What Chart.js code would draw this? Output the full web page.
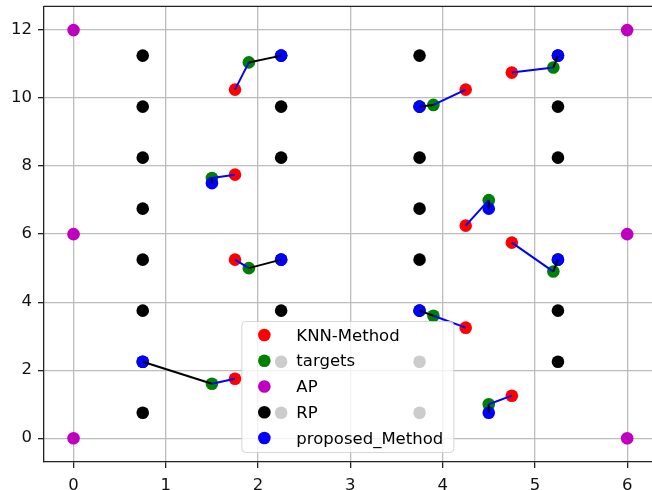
<!DOCTYPE html>
<html>
<head>
<meta charset="utf-8">
<script src="https://cdn.jsdelivr.net/npm/chart.js@4.4.1/dist/chart.umd.min.js"></script>
<style>
  html, body { margin: 0; padding: 0; background: #fff; overflow: hidden; }
  #wrap { width: 663px; height: 490px; }
</style>
</head>
<body>
<div id="wrap"><canvas id="chart" width="663" height="490"></canvas></div>
<script>
const xTicks = [0, 1, 2, 3, 4, 5, 6];
const yTicks = [0, 2, 4, 6, 8, 10, 12];

// one entry per test location
const knnX = [1.75, 1.75, 1.75, 1.75, 4.25, 4.75, 4.25, 4.75, 4.25, 4.75];
const knnY = [10.25, 7.75, 5.25, 1.75, 10.25, 10.75, 6.25, 5.75, 3.25, 1.25];
const targetX = [1.9, 1.5, 1.9, 1.5, 3.9, 5.2, 4.5, 5.2, 3.9, 4.5];
const targetY = [11.05, 7.65, 5.0, 1.6, 9.8, 10.9, 7.0, 4.9, 3.6, 1.0];
const proposedX = [2.25, 1.5, 2.25, 0.75, 3.75, 5.25, 4.5, 5.25, 3.75, 4.5];
const proposedY = [11.25, 7.5, 5.25, 2.25, 9.75, 11.25, 6.75, 5.25, 3.75, 0.75];

const apX = [0, 0, 0, 6, 6, 6];
const apY = [0, 6, 12, 0, 6, 12];

const rpX = [0.75, 0.75, 0.75, 0.75, 0.75, 0.75, 0.75, 0.75,
             2.25, 2.25, 2.25, 2.25, 2.25, 2.25, 2.25,
             3.75, 3.75, 3.75, 3.75, 3.75, 3.75, 3.75, 3.75,
             5.25, 5.25, 5.25, 5.25, 5.25, 5.25];
const rpY = [0.75, 2.25, 3.75, 5.25, 6.75, 8.25, 9.75, 11.25,
             0.75, 2.25, 3.75, 5.25, 8.25, 9.75, 11.25,
             0.75, 2.25, 3.75, 5.25, 6.75, 8.25, 9.75, 11.25,
             2.25, 3.75, 5.25, 8.25, 9.75, 11.25];

const RED = '#ff0000';
const GREEN = '#008000';
const MAGENTA = '#bf00bf';
const BLACK = '#000000';
const BLUE = '#0000ff';
const FONT = "'DejaVu Sans', sans-serif";

const toPoints = (xs, ys) => xs.map((x, i) => ({ x: x, y: ys[i] }));

const scatterSet = (label, xs, ys, color, order) => ({
  label: label,
  data: toPoints(xs, ys),
  backgroundColor: color,
  borderWidth: 0,
  pointRadius: 6.3,
  pointHoverRadius: 6.3,
  order: order
});

// blue: knn -> target, black: target -> proposed
const errorLines = [];
knnX.forEach((_, i) => {
  errorLines.push({
    data: [{ x: knnX[i], y: knnY[i] }, { x: targetX[i], y: targetY[i] }],
    showLine: true, borderColor: BLUE, borderWidth: 2, pointRadius: 0, order: 0
  });
  errorLines.push({
    data: [{ x: targetX[i], y: targetY[i] }, { x: proposedX[i], y: proposedY[i] }],
    showLine: true, borderColor: BLACK, borderWidth: 2, pointRadius: 0, order: 0
  });
});

const legendItems = [
  { label: 'KNN-Method', color: RED },
  { label: 'targets', color: GREEN },
  { label: 'AP', color: MAGENTA },
  { label: 'RP', color: BLACK },
  { label: 'proposed_Method', color: BLUE }
];

const frameAndLegend = {
  id: 'frameAndLegend',
  afterDraw(chart) {
    const { ctx, chartArea } = chart;
    ctx.save();
    // top spine
    ctx.strokeStyle = '#222';
    ctx.lineWidth = 1.3;
    ctx.beginPath();
    ctx.moveTo(chartArea.left, chartArea.top);
    ctx.lineTo(chartArea.right, chartArea.top);
    ctx.stroke();

    // legend box, lower center
    const w = 212, h = 131;
    const left = (chartArea.left + chartArea.right) / 2 - w / 2 - 3;
    const top = chartArea.bottom - 10 - h;
    ctx.beginPath();
    ctx.roundRect(left + 0.5, top + 0.5, w, h, 4);
    ctx.fillStyle = 'rgba(255,255,255,0.8)';
    ctx.fill();
    ctx.strokeStyle = 'rgba(204,204,204,0.8)';
    ctx.lineWidth = 1;
    ctx.stroke();

    ctx.font = '16.5px ' + FONT;
    ctx.textBaseline = 'alphabetic';
    ctx.textAlign = 'left';
    legendItems.forEach((item, i) => {
      const y = top + 14 + i * 25.75;
      ctx.beginPath();
      ctx.arc(left + 23, y, 6.3, 0, Math.PI * 2);
      ctx.fillStyle = item.color;
      ctx.fill();
      ctx.fillStyle = '#000';
      ctx.fillText(item.label, left + 55, y + 5.5);
    });
    ctx.restore();
  }
};

const axisCommon = {
  type: 'linear',
  z: 1,
  grid: {
    color: '#bdbdbd',
    lineWidth: 1.3,
    tickColor: '#222',
    tickWidth: 1.3,
    tickLength: 6
  },
  border: { display: true, color: '#222', width: 1.3 },
  ticks: {
    color: '#111',
    padding: 8,
    font: { family: FONT, size: 16.5 }
  }
};

new Chart(document.getElementById('chart'), {
  type: 'scatter',
  data: {
    datasets: [
      ...errorLines,
      scatterSet('KNN-Method', knnX, knnY, RED, 5),
      scatterSet('targets', targetX, targetY, GREEN, 4),
      scatterSet('AP', apX, apY, MAGENTA, 3),
      scatterSet('RP', rpX, rpY, BLACK, 2),
      scatterSet('proposed_Method', proposedX, proposedY, BLUE, 1)
    ]
  },
  options: {
    responsive: false,
    animation: false,
    layout: { padding: { top: 6, right: 2, left: 0, bottom: 0 } },
    plugins: {
      legend: { display: false },
      tooltip: { enabled: false }
    },
    scales: {
      x: {
        ...axisCommon,
        min: -0.32,
        max: 6.32,
        afterBuildTicks: (scale) => { scale.ticks = xTicks.map(v => ({ value: v })); },
        afterFit: (scale) => {
          scale.height = 28;
          scale.paddingLeft = 0;
          scale.paddingRight = 0;
        }
      },
      y: {
        ...axisCommon,
        min: -0.7,
        max: 12.7,
        ticks: { ...axisCommon.ticks, padding: 6 },
        afterBuildTicks: (scale) => { scale.ticks = yTicks.map(v => ({ value: v })); },
        afterFit: (scale) => {
          scale.width = 44;
          scale.paddingTop = 0;
          scale.paddingBottom = 0;
        }
      }
    }
  },
  plugins: [frameAndLegend]
});
</script>
</body>
</html>
